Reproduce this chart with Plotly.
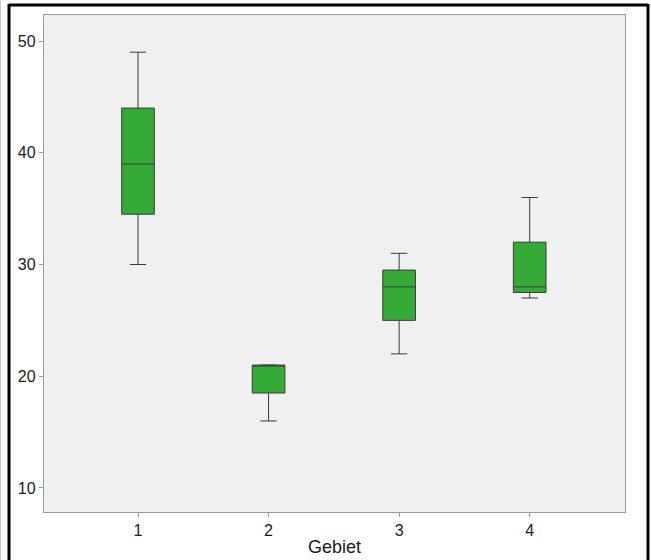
import plotly.graph_objects as go

# Summary statistics per area (Gebiet)
gebiet = [1, 2, 3, 4]
lower_whisker = [30, 16, 22, 27]
q1 = [34.5, 18.5, 25, 27.5]
median = [39, 21, 28, 28]
q3 = [44, 21, 29.5, 32]
upper_whisker = [49, 21, 31, 36]

y_ticks = [10, 20, 30, 40, 50]

fig = go.Figure()
fig.add_trace(go.Box(
    x=gebiet,
    q1=q1,
    median=median,
    q3=q3,
    lowerfence=lower_whisker,
    upperfence=upper_whisker,
    width=0.25,
    whiskerwidth=0.5,
    fillcolor="#36aa36",
    line=dict(color="#3a3a3a", width=1),
    boxpoints=False,
    hoverinfo="skip",
    showlegend=False,
))

W, H = 651, 560
ml, mr, mt, mb = 44, 26, 15, 48
pw, ph = W - ml - mr, H - mt - mb


def px_x(px):
    return (px - ml) / pw


def px_y(py):
    return 1 - (py - mt) / ph


frame = dict(type="line", xref="paper", yref="paper",
             line=dict(color="black", width=3), layer="above")
shapes = [
    dict(frame, x0=px_x(9), x1=px_x(9), y0=px_y(4), y1=px_y(H + 5)),
    dict(frame, x0=px_x(648), x1=px_x(648), y0=px_y(4), y1=px_y(H + 5)),
    dict(frame, x0=px_x(9), x1=px_x(648), y0=px_y(5), y1=px_y(5)),
    dict(type="line", xref="paper", yref="paper",
         x0=px_x(0.5), x1=px_x(0.5), y0=px_y(0), y1=px_y(H),
         line=dict(color="#cccccc", width=1)),
]

fig.update_layout(
    width=W, height=H,
    margin=dict(l=ml, r=mr, t=mt, b=mb, autoexpand=False),
    paper_bgcolor="white",
    plot_bgcolor="#f0f0f0",
    font=dict(family="Arial, Liberation Sans, sans-serif", color="#1a1a1a", size=16),
    shapes=shapes,
    xaxis=dict(
        range=[0.28, 4.73],
        tickmode="array", tickvals=gebiet, ticktext=[str(g) for g in gebiet],
        ticks="outside", ticklen=4, tickcolor="#999999",
        showline=True, linecolor="#9a9a9a", linewidth=1.3, mirror=True,
        showgrid=False, zeroline=False, automargin=False,
        title=dict(text="Gebiet", font=dict(size=18), standoff=2),
    ),
    yaxis=dict(
        range=[7.85, 52.33],
        tickmode="array", tickvals=y_ticks,
        ticks="outside", ticklen=4, tickcolor="#999999",
        showline=True, linecolor="#9a9a9a", linewidth=1.3, mirror=True,
        showgrid=False, zeroline=False, automargin=False,
    ),
)

fig.write_html("out.html")
